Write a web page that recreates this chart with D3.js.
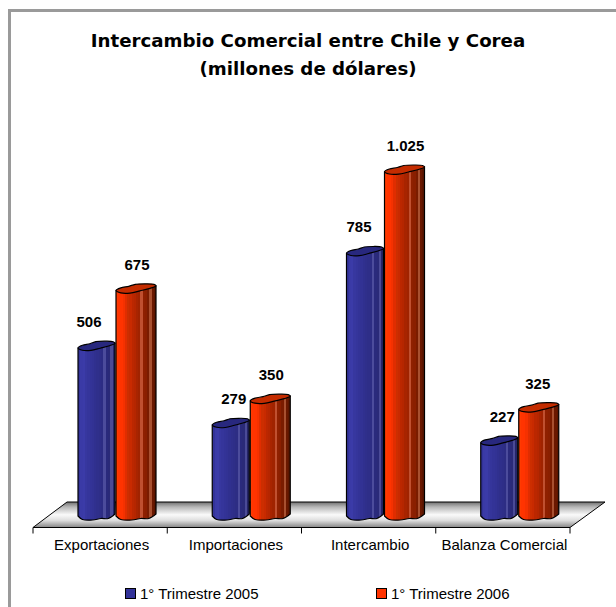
<!DOCTYPE html>
<html>
<head>
<meta charset="utf-8">
<script src="https://cdnjs.cloudflare.com/ajax/libs/d3/7.8.5/d3.min.js"></script>
<style>
html, body { margin: 0; padding: 0; background: #fff; }
svg { display: block; }
</style>
</head>
<body>
<script>
// Values
var categories = ["Exportaciones", "Importaciones", "Intercambio", "Balanza Comercial"];
var seriesNames = ["1° Trimestre 2005", "1° Trimestre 2006"];
var values2005 = [506, 279, 785, 227];
var values2006 = [675, 350, 1025, 325];
var valueLabels2005 = ["506", "279", "785", "227"];
var valueLabels2006 = ["675", "350", "1.025", "325"];
var titleLines = ["Intercambio Comercial entre Chile y Corea", "(millones de dólares)"];

var width = 616, height = 607;

// floor of the 3d chart
var floorFront = 527.5, floorBack = 502, depthX = 34;
var axisLeft = 33, axisRight = 570;
var barBase = 520;

var svg = d3.select("body").append("svg")
    .attr("width", width)
    .attr("height", height);

var defs = svg.append("defs");

// stepped colours, like the old office cylinders
function stepGradient(id, colors) {
    var g = defs.append("linearGradient").attr("id", id);
    colors.forEach(function(c, i) {
        g.append("stop").attr("offset", i / colors.length).attr("stop-color", c);
        g.append("stop").attr("offset", (i + 1) / colors.length).attr("stop-color", c);
    });
}
stepGradient("blueBar", ["#33339a", "#3a3aa6", "#3b3ba8", "#37379f", "#35359b", "#333397", "#323294", "#30308f",
    "#2f2f8b", "#2e2e88", "#2d2d84", "#4c4c9c", "#2a2a7c", "#2a2a78", "#4a4a96", "#252568"]);
stepGradient("redBar", ["#ff3a00", "#ff3400", "#ff3300", "#f53100", "#e02d00", "#cc2e00", "#c82a00", "#bb2700", "#b52600", "#a82400",
    "#a02300", "#c05030", "#8f2000", "#8a1f00", "#7a1c00", "#a85030", "#6a1800", "#5c1600"]);

var floorGrad = defs.append("linearGradient").attr("id", "floorGrad")
    .attr("x1", 0).attr("y1", 0).attr("x2", 0).attr("y2", 1);
[[0, "#707070"], [0.2, "#b8b8b8"], [0.5, "#fafafa"], [0.72, "#dedede"], [1, "#858585"]].forEach(function(s) {
    floorGrad.append("stop").attr("offset", s[0]).attr("stop-color", s[1]);
});

// outer frame, runs off the right and bottom of the picture
svg.append("path")
    .attr("d", "M9.5," + height + "V10.5H" + width)
    .attr("fill", "none")
    .attr("stroke", "#9a9a9a")
    .attr("stroke-width", 3);

// title
svg.append("g").selectAll("text")
    .data(titleLines)
    .enter()
    .append("text")
    .attr("x", 308)
    .attr("y", function(d, i) { return 47 + i * 28; })
    .attr("text-anchor", "middle")
    .style("font-family", "'DejaVu Sans', Verdana, sans-serif")
    .style("font-weight", "bold")
    .style("font-size", "18.2px")
    .attr("fill", "#000")
    .text(function(d) { return d; });

// scales
var x0 = d3.scaleBand().domain(categories).range([axisLeft, axisRight]);
var y = d3.scaleLinear().domain([0, 1025]).range([barBase, 172]);
var barLeft = [45, 83];
var barW = [37, 40];

// floor
svg.append("path")
    .attr("d", "M" + axisLeft + "," + floorFront +
        "L" + (axisLeft + depthX) + "," + floorBack +
        "L" + (axisRight + depthX + 1) + "," + floorBack +
        "L" + axisRight + "," + floorFront + "Z")
    .attr("fill", "url(#floorGrad)")
    .attr("stroke", "#000")
    .attr("stroke-width", 1);

// category axis
var axis = d3.axisBottom(x0).tickSize(0).tickPadding(12);
var axisG = svg.append("g")
    .attr("transform", "translate(1.5," + floorFront + ")")
    .call(axis);
axisG.select(".domain").remove();
axisG.selectAll("text")
    .style("font-family", "'Liberation Sans', Arial, sans-serif")
    .style("font-size", "15px")
    .attr("fill", "#000");

// ticks sit on the band edges
svg.append("g").selectAll("line")
    .data(categories.concat(["end"]))
    .enter()
    .append("line")
    .attr("x1", function(d, i) { return axisLeft + i * x0.bandwidth(); })
    .attr("x2", function(d, i) { return axisLeft + i * x0.bandwidth(); })
    .attr("y1", floorFront)
    .attr("y2", floorFront + 6)
    .attr("stroke", "#000");

// the cylinder body, wobbly bottom and all
function bodyPath(x, w, top) {
    var line = d3.line().curve(d3.curveCatmullRom.alpha(0.5));
    var bottom = line([
        [x, barBase - 4],
        [x + w * 0.12, barBase - 0.5],
        [x + w * 0.4, barBase],
        [x + w * 0.62, barBase - 1.5],
        [x + w * 0.82, barBase - 1.5],
        [x + w, barBase - 6]
    ]);
    return "M" + x + "," + top + bottom.replace("M", "L") + "L" + (x + w) + "," + (top - 5) + "Z";
}

// top of the cylinder, a bit lumpy
function capPath(x, w, top) {
    var line = d3.line().curve(d3.curveCatmullRomClosed.alpha(0.5));
    return line([
        [x, top - 0.5],
        [x + w * 0.12, top - 3],
        [x + w * 0.32, top - 4.5],
        [x + w * 0.48, top - 6.5],
        [x + w * 0.72, top - 7],
        [x + w * 0.95, top - 6.5],
        [x + w, top - 5],
        [x + w * 0.85, top - 2.5],
        [x + w * 0.6, top],
        [x + w * 0.35, top + 2.2],
        [x + w * 0.12, top + 2]
    ]);
}

var seriesValues = [values2005, values2006];
var seriesLabels = [valueLabels2005, valueLabels2006];
var barFills = ["url(#blueBar)", "url(#redBar)"];
var capFills = ["#28287e", "#c42c00"];
// excel moved the labels around so they dont hit the bars
var labelDx2005 = [-7.5, 3, -6, 3];
var labelDx2006 = [1, 1, 1, -1];
var labelDx = [labelDx2005, labelDx2006];

seriesValues.forEach(function(vals, s) {
    var g = svg.append("g");
    var bars = g.selectAll("g")
        .data(vals)
        .enter()
        .append("g");

    bars.append("path")
        .attr("d", function(d, i) {
            return bodyPath(x0(categories[i]) + barLeft[s], barW[s], y(d));
        })
        .attr("fill", barFills[s])
        .attr("stroke", "#000")
        .attr("stroke-width", 1.2);

    bars.append("path")
        .attr("d", function(d, i) {
            return capPath(x0(categories[i]) + barLeft[s], barW[s], y(d));
        })
        .attr("fill", capFills[s])
        .attr("stroke", "#000")
        .attr("stroke-width", 1.2);
});

// value labels go on top so the cylinders dont cover them
seriesValues.forEach(function(vals, s) {
    svg.append("g").selectAll("text")
        .data(vals)
        .enter()
        .append("text")
        .attr("x", function(d, i) {
            return x0(categories[i]) + barLeft[s] + barW[s] / 2 + labelDx[s][i];
        })
        .attr("y", function(d) { return y(d) - 21; })
        .attr("text-anchor", "middle")
        .style("font-family", "'Liberation Sans', Arial, sans-serif")
        .style("font-weight", "bold")
        .style("font-size", "15px")
        .attr("fill", "#000")
        .text(function(d, i) { return seriesLabels[s][i]; });
});

// legend
var legendX = [125, 376];
var legendColors = ["#333399", "#ff3300"];
var legend = svg.append("g").selectAll("g")
    .data(seriesNames)
    .enter()
    .append("g")
    .attr("transform", function(d, i) { return "translate(" + legendX[i] + ",588)"; });

legend.append("rect")
    .attr("x", 0.5)
    .attr("y", 0.5)
    .attr("width", 10)
    .attr("height", 10)
    .attr("fill", function(d, i) { return legendColors[i]; })
    .attr("stroke", "#000");

legend.append("text")
    .attr("x", 15)
    .attr("y", 10.5)
    .style("font-family", "'Liberation Sans', Arial, sans-serif")
    .style("font-size", "15px")
    .attr("fill", "#000")
    .text(function(d) { return d; });
</script>
</body>
</html>
